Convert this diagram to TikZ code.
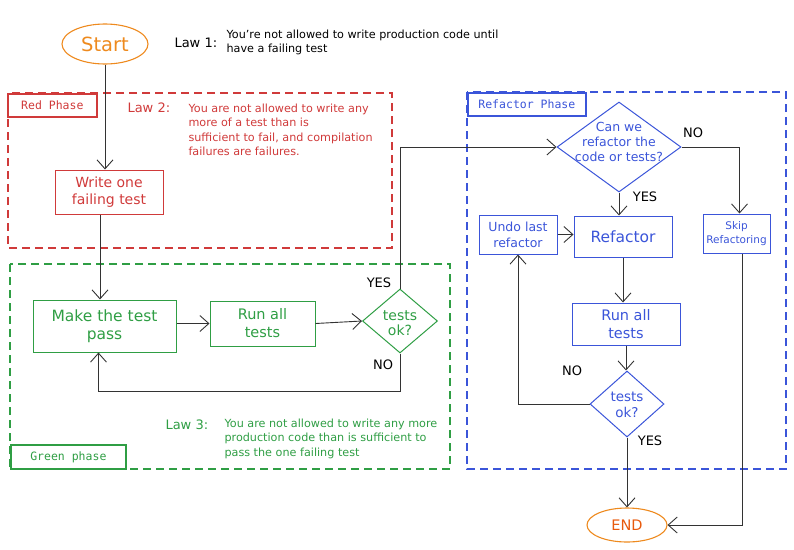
\documentclass[tikz,border=0pt]{standalone}
\usepackage{fontspec}
\setmainfont{DejaVu Sans}
\setmonofont{DejaVu Sans Mono}
\usetikzlibrary{shapes.geometric,arrows.meta}
\definecolor{cred}{HTML}{D03A3A}
\definecolor{cgreen}{HTML}{2F9E44}
\definecolor{cblue}{HTML}{3B55D9}
\definecolor{corange}{HTML}{EE8A1E}
\definecolor{cendtxt}{HTML}{E8590C}
\definecolor{cline}{HTML}{333333}
\newcommand{\fs}[2]{\fontsize{#1}{#2}\selectfont}
\tikzset{
  arr/.style={draw=cline, line width=0.9pt, -{Straight Barb[length=9pt,width=16pt,line width=0.9pt]}},
  frame/.style={line width=1.4pt, dash pattern=on 8pt off 5pt},
  plabel/.style={draw, line width=1.7pt, font=\ttfamily\fs{11.5}{13}, inner sep=0pt, anchor=north west},
  procbox/.style={draw, line width=1pt, inner sep=0pt, align=center},
  decbox/.style={draw, diamond, line width=1pt, inner sep=0pt},
  dectxt/.style={align=center, inner sep=0pt},
  term/.style={draw=corange, ellipse, line width=1.1pt, inner sep=0pt},
  law/.style={anchor=west, font=\fs{13}{15}},
  lawtxt/.style={anchor=west, align=left, font=\fs{11.2}{14.5}},
  yn/.style={font=\fs{13}{15}, text=black},
}
\begin{document}
\begin{tikzpicture}[x=1pt,y=-1pt]
\useasboundingbox (0,0) rectangle (794,549);
% frames
\draw[frame, cred] (8,93) rectangle (392,248);
\draw[frame, cgreen] (10,264) rectangle (450,469);
\draw[frame, cblue] (467,92) rectangle (786,469);
\node[plabel, draw=cred, text=cred, minimum width=89, minimum height=23] (lred) at (7,93) {Red Phase};
\node[plabel, draw=cgreen, text=cgreen, minimum width=115, minimum height=24, anchor=south west] (lgreen) at (10,470) {Green phase};
\node[plabel, draw=cblue, text=cblue, minimum width=118, minimum height=23] (lblue) at (467,92) {Refactor Phase};

% start
\node[term, minimum width=86, minimum height=40, text=corange, font=\fs{19.5}{21}] (start) at (105,44) {Start};
\node[law] (law1) at (171,43) {Law 1:};
\node[lawtxt, text=black] (law1t) at (223,42.5) {You're not allowed to write production code until\\have a failing test};

% red
\node[law, text=cred] (law2) at (124,108) {Law 2:};
\node[lawtxt, text=cred] (law2t) at (185,130) {You are not allowed to write any\\more of a test than is\\sufficient to fail, and compilation\\failures are failures.};
\node[procbox, draw=cred, text=cred, minimum width=108, minimum height=44, font=\fs{14}{17.5}] (write) at (109,192) {Write one\\failing test};

% green
\node[procbox, draw=cgreen, text=cgreen, minimum width=143, minimum height=52, font=\fs{15.5}{18.5}] (make) at (104.5,326) {Make the test\\pass};
\node[procbox, draw=cgreen, text=cgreen, minimum width=105, minimum height=45, font=\fs{14.5}{18}] (run1) at (262.5,323.5) {Run all\\tests};
\node[decbox, draw=cgreen, minimum width=75, minimum height=64] (dia1) at (400,321) {};
\node[dectxt, text=cgreen, font=\fs{14}{15.5}] (dia1t) at (400,323) {tests\\ok?};
\node[law, text=cgreen] (law3) at (162,425) {Law 3:};
\node[lawtxt, text=cgreen] (law3t) at (221,438.5) {You are not allowed to write any more\\production code than is sufficient to\\pass the one failing test};

% blue
\node[decbox, draw=cblue, minimum width=124, minimum height=90] (can) at (619,147) {};
\node[dectxt, text=cblue, font=\fs{12.5}{15}] (cant) at (619,142) {Can we\\refactor the\\code or tests?};
\node[procbox, draw=cblue, text=cblue, minimum width=67, minimum height=39, font=\fs{10.5}{14}] (skip) at (736.5,233.5) {Skip\\Refactoring};
\node[procbox, draw=cblue, text=cblue, minimum width=98, minimum height=41, font=\fs{15.5}{17}] (refac) at (623,236.5) {Refactor};
\node[procbox, draw=cblue, text=cblue, minimum width=78, minimum height=39, font=\fs{12.5}{16}] (undo) at (518,234.5) {Undo last\\refactor};
\node[procbox, draw=cblue, text=cblue, minimum width=108, minimum height=42, font=\fs{14.5}{18}] (run2) at (626,324) {Run all\\tests};
\node[decbox, draw=cblue, minimum width=74, minimum height=66] (dia2) at (627,404) {};
\node[dectxt, text=cblue, font=\fs{13.5}{15.5}] (dia2t) at (627,405) {tests\\ok?};
\node[term, minimum width=80, minimum height=34, text=cendtxt, font=\fs{14.5}{16}] (endn) at (627,525) {END};

% yes/no labels
\node[yn] (y1) at (379,283) {YES};
\node[yn] (n1) at (383,365) {NO};
\node[yn] (n2) at (693,133) {NO};
\node[yn] (y2) at (645,197) {YES};
\node[yn] (n3) at (572,371) {NO};
\node[yn] (y3) at (650,441) {YES};

% connectors
\coordinate (loopy) at (0,391);
\draw[arr] (start.south) -- (start.south |- write.north);
\draw[arr] ([xshift=-9]write.south) -- ([xshift=-9]write.south |- make.north);
\draw[arr] (make.east |- run1) -- (run1.west);
\draw[arr] (run1.east) -- (dia1.west);
\draw[arr] (dia1.south) -- (dia1.south |- loopy) -| ([xshift=-6]make.south);
\draw[arr] (dia1.north) |- (can.west);
\draw[arr] (can.east) -| ([xshift=3]skip.north);
\draw[arr] (can.south) -- (can.south |- refac.north);
\draw[arr] (undo.east) -- (undo.east -| refac.west);
\draw[arr] (refac.south) -- (refac.south |- run2.north);
\draw[arr] (run2.south) -- (run2.south |- dia2.north);
\draw[arr] (dia2.west) -| (undo.south);
\draw[arr] (dia2.south) -- (endn.north);
\draw[arr] ([xshift=6]skip.south) |- (endn.east);
\end{tikzpicture}
\end{document}
